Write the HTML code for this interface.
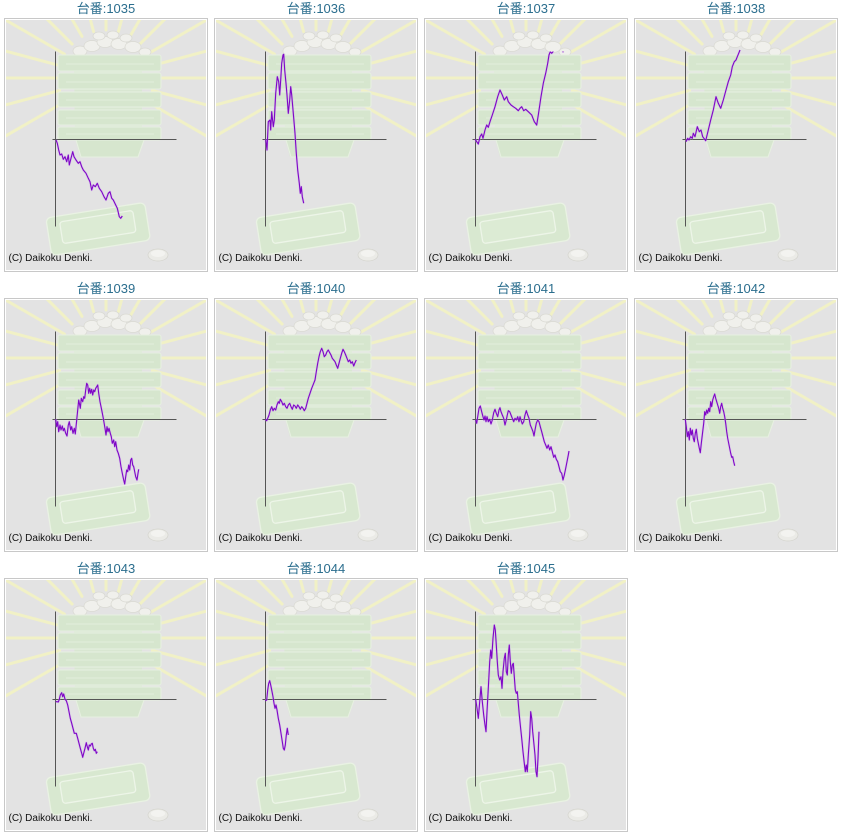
<!DOCTYPE html>
<html>
<head>
<meta charset="utf-8">
<style>
html,body{margin:0;padding:0;background:#fff;}
body{width:843px;height:838px;position:relative;overflow:hidden;}
.t{position:absolute;width:212px;height:17px;line-height:17px;text-align:center;font-family:"Liberation Sans","Noto Sans CJK JP",sans-serif;font-size:13px;color:#2b6e8e;}
.b{position:absolute;width:204px;height:254px;border:1px solid #c8c8c8;background:#fff;box-sizing:border-box;padding:0;}
.b svg{position:absolute;left:1px;top:1px;}
.cp{font-family:"Liberation Sans",sans-serif;font-size:10px;fill:#111;}
.ln{fill:none;stroke:#7f06c6;stroke-width:1.1;stroke-linejoin:round;}
.gl{fill:none;stroke:#c9a3ee;stroke-width:2.4;stroke-linejoin:round;opacity:0.4;}
</style>
</head>
<body>
<svg width="0" height="0" style="position:absolute">
<defs>
<clipPath id="plotclip"><rect x="0" y="31.5" width="200" height="220"/></clipPath>
<symbol id="bg" viewBox="0 0 200 250" width="200" height="250">
<rect x="0" y="0" width="200" height="250" fill="#e3e3e3"/>
<g stroke="#f1f1c6" stroke-width="3" stroke-linecap="round">
<line x1="58.4" y1="82" x2="-21.2" y2="128"/>
<line x1="53.6" y1="70.4" x2="-35.2" y2="94.3"/>
<line x1="52" y1="58" x2="-40" y2="58"/>
<line x1="53.6" y1="45.6" x2="-35.2" y2="21.7"/>
<line x1="58.4" y1="34" x2="-21.2" y2="-12"/>
<line x1="66.1" y1="24.1" x2="1" y2="-41"/>
<line x1="76" y1="16.4" x2="30" y2="-63"/>
<line x1="87.6" y1="11.6" x2="63.8" y2="-77"/>
<line x1="100" y1="10" x2="100" y2="-82"/>
<line x1="112.4" y1="11.6" x2="136.2" y2="-77"/>
<line x1="124" y1="16.4" x2="170" y2="-63"/>
<line x1="133.9" y1="24.1" x2="199" y2="-41"/>
<line x1="141.6" y1="34" x2="221.2" y2="-12"/>
<line x1="146.4" y1="45.6" x2="235.2" y2="21.7"/>
<line x1="148" y1="58" x2="240" y2="58"/>
<line x1="146.4" y1="70.4" x2="235.2" y2="94.3"/>
<line x1="141.6" y1="82" x2="221.2" y2="128"/>
</g>
<!-- balls -->
<g fill="#f0f0ec" stroke="#d9d9d2" stroke-width="0.7">
<ellipse cx="74" cy="31" rx="7" ry="5"/>
<ellipse cx="86" cy="26" rx="8" ry="5.5"/>
<ellipse cx="99" cy="22" rx="8" ry="5.5"/>
<ellipse cx="113" cy="24" rx="8" ry="5.5"/>
<ellipse cx="127" cy="27" rx="8" ry="5.5"/>
<ellipse cx="139" cy="32" rx="6" ry="4"/>
<ellipse cx="93" cy="16" rx="6" ry="4"/>
<ellipse cx="107" cy="15" rx="6" ry="4"/>
<ellipse cx="120" cy="18" rx="6" ry="4"/>
</g>
<!-- tower core -->
<polygon points="68,40 136,40 136,118 131,137 74,137 69,118" fill="#d9e7d2"/>
<g fill="#d6e6ce" stroke="#e7f0e1" stroke-width="1.1">
<rect x="52" y="35" width="103" height="16" rx="2"/>
<rect x="52" y="53" width="103" height="16" rx="2"/>
<rect x="52" y="72" width="103" height="15" rx="2"/>
<rect x="52" y="90" width="103" height="15" rx="2"/>
<rect x="52" y="107" width="103" height="13" rx="2"/>
<polygon points="70,120 138,120 132,137 75,137"/>
</g>
<g stroke="#e3eedc" stroke-width="1">
<line x1="60" y1="44" x2="148" y2="44"/>
<line x1="60" y1="62" x2="148" y2="62"/>
<line x1="60" y1="80" x2="148" y2="80"/>
<line x1="60" y1="98" x2="148" y2="98"/>
<line x1="60" y1="114" x2="148" y2="114"/>
</g>
<!-- bottom tray -->
<g transform="rotate(-9 92 208)">
<rect x="42" y="190" width="100" height="38" rx="5" fill="#d8e8d0" stroke="#e9f2e3" stroke-width="1.3"/>
<rect x="55" y="196" width="74" height="22" rx="3" fill="#dcebd4" stroke="#edf5e8" stroke-width="1.3"/>
</g>
<!-- coin -->
<ellipse cx="152" cy="235" rx="10" ry="6" fill="#ebebe7" stroke="#d4d4cd" stroke-width="0.7"/>
<ellipse cx="152" cy="233.5" rx="7" ry="3.5" fill="#f3f3f0"/>
<!-- axes -->
<line x1="49.5" y1="31.5" x2="49.5" y2="206.5" stroke="#555" stroke-width="1"/>
<line x1="46.5" y1="119.5" x2="170.5" y2="119.5" stroke="#555" stroke-width="1"/>
</symbol>
</defs>
</svg>

<!-- Row 1 -->
<div class="t" style="left:0px;top:0px">台番:1035</div>
<div class="b" style="left:4px;top:18px"><svg width="200" height="250"><use href="#bg"/>
<polyline class="gl" points="50,120 51.3,123.3 52.7,130 54,135 55.7,134 57.3,139.3 59,136.7 60.7,141.7 62.3,135 63.3,145 65,138.3 66.7,131.7 68,136.7 70,140 72.3,143.3 74,141.7 75.7,146.7 77.3,150 80,153.3 82.3,158.3 84,161.7 85.7,170 87.3,165 89.3,166.7 91.3,163.3 93.3,168.3 95.7,171.7 98,176.7 100,180 102.3,173.3 104,171.7 105.7,178.3 107.3,180 109.7,185 111.3,188.3 113.3,196.7 114.7,198.3 116.3,196"/>
<polyline class="ln" points="50,120 51.3,123.3 52.7,130 54,135 55.7,134 57.3,139.3 59,136.7 60.7,141.7 62.3,135 63.3,145 65,138.3 66.7,131.7 68,136.7 70,140 72.3,143.3 74,141.7 75.7,146.7 77.3,150 80,153.3 82.3,158.3 84,161.7 85.7,170 87.3,165 89.3,166.7 91.3,163.3 93.3,168.3 95.7,171.7 98,176.7 100,180 102.3,173.3 104,171.7 105.7,178.3 107.3,180 109.7,185 111.3,188.3 113.3,196.7 114.7,198.3 116.3,196"/>
<text class="cp" x="2.5" y="241">(C) Daikoku Denki.</text></svg></div>

<div class="t" style="left:210px;top:0px">台番:1036</div>
<div class="b" style="left:214px;top:18px"><svg width="200" height="250"><use href="#bg"/>
<polyline class="gl" points="49.7,119.3 51,130 52.3,101.7 54,100 54.7,110 55.7,91.7 57.3,106.7 58.3,100 59.7,73.3 61.3,56.7 62.7,61.7 63.7,75 64.7,60 65.7,43.3 67,35 67.7,34.3 68.7,50 70,63.3 71,75 72.3,93.3 73.7,80 74.7,66.7 75.7,75 77.3,93.3 79,113.3 80.3,133.3 81.7,150 83.3,163.3 84.3,173.3 85.3,166.7 86.3,176.7 87.7,183.3"/>
<polyline class="ln" points="49.7,119.3 51,130 52.3,101.7 54,100 54.7,110 55.7,91.7 57.3,106.7 58.3,100 59.7,73.3 61.3,56.7 62.7,61.7 63.7,75 64.7,60 65.7,43.3 67,35 67.7,34.3 68.7,50 70,63.3 71,75 72.3,93.3 73.7,80 74.7,66.7 75.7,75 77.3,93.3 79,113.3 80.3,133.3 81.7,150 83.3,163.3 84.3,173.3 85.3,166.7 86.3,176.7 87.7,183.3"/>
<text class="cp" x="2.5" y="241">(C) Daikoku Denki.</text></svg></div>

<div class="t" style="left:420px;top:0px">台番:1037</div>
<div class="b" style="left:424px;top:18px"><svg width="200" height="250"><use href="#bg"/>
<g clip-path="url(#plotclip)">
<polyline class="gl" points="49.3,119.3 50.7,121.7 52.3,124 54,116.7 55.7,114 57,118.3 59,110 60.7,105 62.3,107.3 64,101.7 66.3,95 69,86.7 71.7,76.7 74,70 76.3,75 78.3,80 80.7,76.7 82.3,81.7 85,85 87.3,86.7 89.7,88.3 92.3,90.7 94,88.3 95.7,86.7 97.7,90.7 99.7,89.3 102.3,91.7 105.7,95 108.3,101.7 110.7,105 112.3,95 115,76.7 117.3,63.3 119.7,53.3 121.7,43.3 123,35 124.3,31.7 125.7,33.3 127,31.7 129,25 135,25 137,31.8 139,25"/>
<polyline class="ln" points="49.3,119.3 50.7,121.7 52.3,124 54,116.7 55.7,114 57,118.3 59,110 60.7,105 62.3,107.3 64,101.7 66.3,95 69,86.7 71.7,76.7 74,70 76.3,75 78.3,80 80.7,76.7 82.3,81.7 85,85 87.3,86.7 89.7,88.3 92.3,90.7 94,88.3 95.7,86.7 97.7,90.7 99.7,89.3 102.3,91.7 105.7,95 108.3,101.7 110.7,105 112.3,95 115,76.7 117.3,63.3 119.7,53.3 121.7,43.3 123,35 124.3,31.7 125.7,33.3 127,31.7 129,25 135,25 137,31.8 139,25"/>
</g>
<text class="cp" x="2.5" y="241">(C) Daikoku Denki.</text></svg></div>

<div class="t" style="left:630px;top:0px">台番:1038</div>
<div class="b" style="left:634px;top:18px"><svg width="200" height="250"><use href="#bg"/>
<polyline class="gl" points="50,121.7 51.7,118.3 53,120 54.7,116.7 56.3,118.3 57.3,113.3 59,116.7 61.3,106.7 63.3,111.7 65,110 66.7,116.7 69.7,120.7 72.3,110 74.7,100 77.3,90 80,76.7 82.3,83.3 84.7,88.3 87.3,80 90,70 92.3,61.7 94.7,55 96.3,46.7 98.3,41.7 100,40 101.3,36.7 102.7,33.3 104,30"/>
<polyline class="ln" points="50,121.7 51.7,118.3 53,120 54.7,116.7 56.3,118.3 57.3,113.3 59,116.7 61.3,106.7 63.3,111.7 65,110 66.7,116.7 69.7,120.7 72.3,110 74.7,100 77.3,90 80,76.7 82.3,83.3 84.7,88.3 87.3,80 90,70 92.3,61.7 94.7,55 96.3,46.7 98.3,41.7 100,40 101.3,36.7 102.7,33.3 104,30"/>
<text class="cp" x="2.5" y="241">(C) Daikoku Denki.</text></svg></div>

<!-- Row 2 -->
<div class="t" style="left:0px;top:280px">台番:1039</div>
<div class="b" style="left:4px;top:298px"><svg width="200" height="250"><use href="#bg"/>
<polyline class="gl" points="49.7,119.3 50.7,126.7 51.7,121.7 52.7,131.7 54,125 55,130 56.3,126 57.3,130.7 58.3,128.3 59.7,133.3 61,136 62.3,125 63.3,121.7 64.7,130 65.7,126.7 67,133.3 68.3,128.3 69.3,134 70.7,120 71.7,110 72.7,100 73.7,105 74.3,108.3 75.3,98.3 76.7,101.7 77.7,96.7 78.7,98.3 79.7,90 80.7,83.3 81.7,85 82.7,93.3 83.7,88.3 84.7,93.3 85.7,89.3 86.7,95 87.7,90 88.7,91.7 89.7,88.3 90.7,86.7 91.7,85 92.7,93.3 94,101.7 95.7,110 97.3,118.3 99,128.3 100,135 101,126.7 102,131.7 103,128.3 104.3,133.3 105.3,136.7 106.3,143.3 107.7,140 108.7,146.7 109.7,141.7 111,150 112.3,153.3 113.7,158.3 115,166.7 116.3,173.3 117.7,180 118.7,184 119.7,176.7 120.7,170 121.7,171.7 122.7,165 123.7,170 124.7,160 125.7,158.3 126.7,165 127.7,166.7 128.7,171.7 129.7,176.7 131,180 132,173.3 132.7,169.3"/>
<polyline class="ln" points="49.7,119.3 50.7,126.7 51.7,121.7 52.7,131.7 54,125 55,130 56.3,126 57.3,130.7 58.3,128.3 59.7,133.3 61,136 62.3,125 63.3,121.7 64.7,130 65.7,126.7 67,133.3 68.3,128.3 69.3,134 70.7,120 71.7,110 72.7,100 73.7,105 74.3,108.3 75.3,98.3 76.7,101.7 77.7,96.7 78.7,98.3 79.7,90 80.7,83.3 81.7,85 82.7,93.3 83.7,88.3 84.7,93.3 85.7,89.3 86.7,95 87.7,90 88.7,91.7 89.7,88.3 90.7,86.7 91.7,85 92.7,93.3 94,101.7 95.7,110 97.3,118.3 99,128.3 100,135 101,126.7 102,131.7 103,128.3 104.3,133.3 105.3,136.7 106.3,143.3 107.7,140 108.7,146.7 109.7,141.7 111,150 112.3,153.3 113.7,158.3 115,166.7 116.3,173.3 117.7,180 118.7,184 119.7,176.7 120.7,170 121.7,171.7 122.7,165 123.7,170 124.7,160 125.7,158.3 126.7,165 127.7,166.7 128.7,171.7 129.7,176.7 131,180 132,173.3 132.7,169.3"/>
<text class="cp" x="2.5" y="241">(C) Daikoku Denki.</text></svg></div>

<div class="t" style="left:210px;top:280px">台番:1040</div>
<div class="b" style="left:214px;top:298px"><svg width="200" height="250"><use href="#bg"/>
<polyline class="gl" points="49.3,119.3 50.7,120.7 51.7,118.3 53,115 54.3,110 55.7,106.7 57,110.7 58.3,108.3 59.7,110 61,105 62.3,101.7 63.3,103.3 64.3,99.3 65.7,101.7 67,105 68.3,103.3 69.7,106.7 71,108.3 72.3,105 73.7,103.3 75,106.7 76.3,109.3 77.7,105 79,106 80.3,108.3 81.7,105 83,106.7 84.3,109.3 85.7,106.7 87,108.3 88.3,110.7 89.7,108.3 91,103.3 92.3,98.3 94,93.3 95.7,88.3 97.7,83.3 99,80 100.3,71.7 101.7,63.3 103,56.7 104.3,51.7 105.7,48.3 107,51.7 108.3,56.7 109.7,55 111,51.7 112.3,50 113.7,52.7 115,55 116.3,58.3 117.7,60 119,61.7 120.3,65 121.7,68.3 123,63.3 124.3,58.3 125.7,53.3 127,49.3 128.3,51.7 129.7,55 131,58.3 132.3,61.7 133.7,60 135,63.3 136.3,61.7 137.7,66 139,62.7 140.3,60"/>
<polyline class="ln" points="49.3,119.3 50.7,120.7 51.7,118.3 53,115 54.3,110 55.7,106.7 57,110.7 58.3,108.3 59.7,110 61,105 62.3,101.7 63.3,103.3 64.3,99.3 65.7,101.7 67,105 68.3,103.3 69.7,106.7 71,108.3 72.3,105 73.7,103.3 75,106.7 76.3,109.3 77.7,105 79,106 80.3,108.3 81.7,105 83,106.7 84.3,109.3 85.7,106.7 87,108.3 88.3,110.7 89.7,108.3 91,103.3 92.3,98.3 94,93.3 95.7,88.3 97.7,83.3 99,80 100.3,71.7 101.7,63.3 103,56.7 104.3,51.7 105.7,48.3 107,51.7 108.3,56.7 109.7,55 111,51.7 112.3,50 113.7,52.7 115,55 116.3,58.3 117.7,60 119,61.7 120.3,65 121.7,68.3 123,63.3 124.3,58.3 125.7,53.3 127,49.3 128.3,51.7 129.7,55 131,58.3 132.3,61.7 133.7,60 135,63.3 136.3,61.7 137.7,66 139,62.7 140.3,60"/>
<text class="cp" x="2.5" y="241">(C) Daikoku Denki.</text></svg></div>

<div class="t" style="left:420px;top:280px">台番:1041</div>
<div class="b" style="left:424px;top:298px"><svg width="200" height="250"><use href="#bg"/>
<polyline class="gl" points="49.7,120 50.7,123.3 51.7,116.7 53,108.3 54.3,106 55.7,111.7 57,116.7 58,120 59,116 60,121.7 61,116.7 62.3,121.7 63.7,119.3 65,124 66.3,120 67.7,112.7 69,109.3 70.3,113.3 71.7,116.7 73,110 74,107.7 75,111.7 76.3,115 77.7,118.3 79,125 80.3,120 81.3,115 82.3,110.7 83.7,111.7 85,115 86.3,118.3 87.7,121.7 89,118.3 90.3,120 91.7,116.7 93,121.7 94,116.7 95,120 96.3,124 97.7,121.7 99,115 100.3,110.7 101.7,115 103,118.3 104.3,125 105.7,128.3 107,131.7 108,136 109,130 110.3,123.3 111.7,120 113,121.7 114.3,126.7 115.7,131.7 117,136.7 118.3,141.7 119.7,145 121,148.3 122.3,145 123.7,150 125,146.7 126.3,151.7 127.7,157.3 129,155 130.3,159.3 131.7,161.7 133,166.7 134.3,171.7 135.7,173.3 137,180 138.3,175 139.7,168.3 141,161.7 142.3,155 143,151"/>
<polyline class="ln" points="49.7,120 50.7,123.3 51.7,116.7 53,108.3 54.3,106 55.7,111.7 57,116.7 58,120 59,116 60,121.7 61,116.7 62.3,121.7 63.7,119.3 65,124 66.3,120 67.7,112.7 69,109.3 70.3,113.3 71.7,116.7 73,110 74,107.7 75,111.7 76.3,115 77.7,118.3 79,125 80.3,120 81.3,115 82.3,110.7 83.7,111.7 85,115 86.3,118.3 87.7,121.7 89,118.3 90.3,120 91.7,116.7 93,121.7 94,116.7 95,120 96.3,124 97.7,121.7 99,115 100.3,110.7 101.7,115 103,118.3 104.3,125 105.7,128.3 107,131.7 108,136 109,130 110.3,123.3 111.7,120 113,121.7 114.3,126.7 115.7,131.7 117,136.7 118.3,141.7 119.7,145 121,148.3 122.3,145 123.7,150 125,146.7 126.3,151.7 127.7,157.3 129,155 130.3,159.3 131.7,161.7 133,166.7 134.3,171.7 135.7,173.3 137,180 138.3,175 139.7,168.3 141,161.7 142.3,155 143,151"/>
<text class="cp" x="2.5" y="241">(C) Daikoku Denki.</text></svg></div>

<div class="t" style="left:630px;top:280px">台番:1042</div>
<div class="b" style="left:634px;top:298px"><svg width="200" height="250"><use href="#bg"/>
<polyline class="gl" points="49.3,119.3 50.3,126.7 51.3,136.7 52.3,131.7 53.3,140 54.3,128.3 55.3,135 56.3,130 57.3,138.3 58.3,141.7 59.3,133.3 60.3,129.3 61.3,138.3 62.3,143.3 63.3,148.3 64.3,152.7 65.3,143.3 66.3,135 67.7,123.3 68.7,111.7 69.7,115 70.7,110 71.7,113.3 72.7,108.3 73.7,111.7 74.7,101.7 75.7,106.7 76.7,100 77.7,96.7 78.7,94 79.7,98.3 80.7,101.7 81.7,105 82.7,108.3 83.7,113.3 84.7,106.7 85.7,103.3 86.7,108.3 87.7,111.7 88.7,116.7 89.7,123.3 90.7,131.7 91.7,138.3 92.7,143.3 93.7,148.3 94.7,153.3 95.7,157.3 96.7,156.7 97.7,161.7 98.7,165.7"/>
<polyline class="ln" points="49.3,119.3 50.3,126.7 51.3,136.7 52.3,131.7 53.3,140 54.3,128.3 55.3,135 56.3,130 57.3,138.3 58.3,141.7 59.3,133.3 60.3,129.3 61.3,138.3 62.3,143.3 63.3,148.3 64.3,152.7 65.3,143.3 66.3,135 67.7,123.3 68.7,111.7 69.7,115 70.7,110 71.7,113.3 72.7,108.3 73.7,111.7 74.7,101.7 75.7,106.7 76.7,100 77.7,96.7 78.7,94 79.7,98.3 80.7,101.7 81.7,105 82.7,108.3 83.7,113.3 84.7,106.7 85.7,103.3 86.7,108.3 87.7,111.7 88.7,116.7 89.7,123.3 90.7,131.7 91.7,138.3 92.7,143.3 93.7,148.3 94.7,153.3 95.7,157.3 96.7,156.7 97.7,161.7 98.7,165.7"/>
<text class="cp" x="2.5" y="241">(C) Daikoku Denki.</text></svg></div>

<!-- Row 3 -->
<div class="t" style="left:0px;top:560px">台番:1043</div>
<div class="b" style="left:4px;top:578px"><svg width="200" height="250"><use href="#bg"/>
<polyline class="gl" points="49.7,121.7 51,121.7 52.3,122 53.3,119.3 54.3,115 55.7,112.7 56.7,116.7 57.7,114 59,119.3 60.3,120.7 61.7,125 63,131.7 64.3,138.3 65.7,143.3 67,148.3 68.3,153.3 70.3,153.3 71.7,158.3 73,163.3 74.3,168.3 75.7,173.3 76.7,177.3 77.7,173.3 79,168.3 80.3,162.7 81.3,166.7 82.3,170 83.3,165 84.3,166 85.3,164 86.3,163.3 87.3,168.3 88.3,170.7 89.3,169.3 90.3,173.3 91.3,171.7"/>
<polyline class="ln" points="49.7,121.7 51,121.7 52.3,122 53.3,119.3 54.3,115 55.7,112.7 56.7,116.7 57.7,114 59,119.3 60.3,120.7 61.7,125 63,131.7 64.3,138.3 65.7,143.3 67,148.3 68.3,153.3 70.3,153.3 71.7,158.3 73,163.3 74.3,168.3 75.7,173.3 76.7,177.3 77.7,173.3 79,168.3 80.3,162.7 81.3,166.7 82.3,170 83.3,165 84.3,166 85.3,164 86.3,163.3 87.3,168.3 88.3,170.7 89.3,169.3 90.3,173.3 91.3,171.7"/>
<text class="cp" x="2.5" y="241">(C) Daikoku Denki.</text></svg></div>

<div class="t" style="left:210px;top:560px">台番:1044</div>
<div class="b" style="left:214px;top:578px"><svg width="200" height="250"><use href="#bg"/>
<polyline class="gl" points="49.3,120.7 50.7,120 51.7,110 52.7,103.3 53.7,100.7 54.7,105 55.7,110 57,116.7 58,123.3 59,128.3 60,125 61,130 62.3,138.3 63.7,145 65,153.3 66.3,161.7 67.3,168.3 68.3,170 69.3,165 70.3,155 71.3,148.3 72.3,155"/>
<polyline class="ln" points="49.3,120.7 50.7,120 51.7,110 52.7,103.3 53.7,100.7 54.7,105 55.7,110 57,116.7 58,123.3 59,128.3 60,125 61,130 62.3,138.3 63.7,145 65,153.3 66.3,161.7 67.3,168.3 68.3,170 69.3,165 70.3,155 71.3,148.3 72.3,155"/>
<text class="cp" x="2.5" y="241">(C) Daikoku Denki.</text></svg></div>

<div class="t" style="left:420px;top:560px">台番:1045</div>
<div class="b" style="left:424px;top:578px"><svg width="200" height="250"><use href="#bg"/>
<polyline class="gl" points="49.7,119.3 51,128.3 52.3,138.3 53.7,121.7 55,106.7 56.3,121.7 57.7,135 59,145 60,151.7 61,131.7 62.3,108.3 63.7,81.7 64.7,70 65.7,78.3 67,58.3 68.3,45 69.3,50 70.3,65 71.3,81.7 72.3,95 73.7,100 75,96.7 76,108.3 77,91.7 78.3,78.3 79.3,73.3 80.3,91.7 81.3,95 82.3,75 83.3,65 84.3,81.7 85.3,93.3 86.3,85 87.3,83.3 88.3,96.7 89.3,110 90.3,113.3 91.3,111.7 92.3,123.3 93.3,135 94.3,145 95.7,158.3 97,171.7 98.3,183.3 99.3,191.7 100.3,185 101.3,191.7 102.3,175 103.7,155 104.7,131.7 105.7,138.3 106.7,151.7 107.7,161.7 109,175 110,191.7 111,196.7 112,178.3 113,151.7"/>
<polyline class="ln" points="49.7,119.3 51,128.3 52.3,138.3 53.7,121.7 55,106.7 56.3,121.7 57.7,135 59,145 60,151.7 61,131.7 62.3,108.3 63.7,81.7 64.7,70 65.7,78.3 67,58.3 68.3,45 69.3,50 70.3,65 71.3,81.7 72.3,95 73.7,100 75,96.7 76,108.3 77,91.7 78.3,78.3 79.3,73.3 80.3,91.7 81.3,95 82.3,75 83.3,65 84.3,81.7 85.3,93.3 86.3,85 87.3,83.3 88.3,96.7 89.3,110 90.3,113.3 91.3,111.7 92.3,123.3 93.3,135 94.3,145 95.7,158.3 97,171.7 98.3,183.3 99.3,191.7 100.3,185 101.3,191.7 102.3,175 103.7,155 104.7,131.7 105.7,138.3 106.7,151.7 107.7,161.7 109,175 110,191.7 111,196.7 112,178.3 113,151.7"/>
<text class="cp" x="2.5" y="241">(C) Daikoku Denki.</text></svg></div>

</body>
</html>
